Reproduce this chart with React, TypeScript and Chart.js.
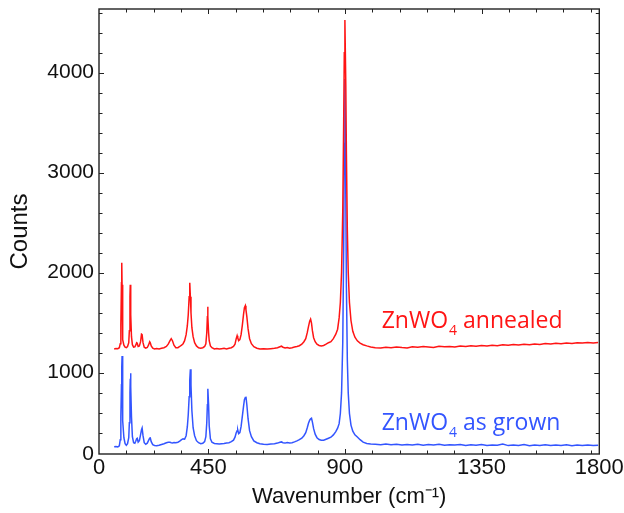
import { useEffect, useRef } from "react";
import { Chart, registerables } from "chart.js";

Chart.register(...registerables);

// Wavenumber grid (axis units) shared by both spectra
const wavenumber = [
  140, 146, 152, 157, 160, 162, 164, 165, 166, 167, 169, 172, 176, 180, 184, 188, 190, 192, 193, 194,
  195, 197, 200, 204, 208, 211, 214, 216, 219, 223, 227, 230, 232, 235, 239, 244, 249, 253, 257, 259,
  262, 267, 273, 280, 288, 296, 304, 312, 318, 324, 328, 332, 337, 343, 350, 356, 362, 367, 372, 377,
  381, 384, 387, 389, 391, 393, 396, 400, 405, 411, 418, 425, 432, 438, 442, 445, 447, 448, 449, 451,
  453, 457, 462, 470, 478, 486, 494, 502, 510, 518, 526, 533, 538, 542, 545, 547, 550, 554, 558, 562,
  566, 569, 572, 574, 577, 581, 586, 592, 600, 610, 620, 632, 644, 656, 668, 678, 686, 691, 696, 703,
  710, 718, 726, 734, 742, 750, 758, 765, 771, 776, 780, 784, 787, 790, 793, 797, 802, 808, 815, 822,
  830, 838, 846, 854, 862, 870, 876, 881, 885, 889, 893, 896, 898, 900, 903, 905, 908, 911, 915, 920,
  926, 933, 941, 950, 960, 972, 985, 1000, 1018, 1035, 1052, 1070, 1088, 1105, 1122, 1140, 1158, 1175,
  1192, 1210, 1228, 1245, 1262, 1280, 1298, 1315, 1332, 1350, 1368, 1385, 1402, 1420, 1438, 1455, 1472, 1490,
  1508, 1525, 1542, 1560, 1578, 1595, 1612, 1630, 1648, 1665, 1682, 1700, 1718, 1734,
];

const annealedCounts = [
  1237, 1242, 1240, 1250, 1290, 1480, 1900, 2100, 1880, 1520, 1330, 1275, 1255, 1250, 1262, 1300, 1420, 1760, 1880, 1800,
  1580, 1360, 1280, 1255, 1258, 1275, 1300, 1295, 1262, 1268, 1310, 1385, 1380, 1300, 1255, 1245, 1252, 1275, 1310, 1300,
  1268, 1245, 1238, 1242, 1238, 1245, 1250, 1262, 1285, 1320, 1340, 1320, 1275, 1250, 1250, 1262, 1275, 1290, 1320, 1380,
  1470, 1580, 1760, 1900, 1760, 1600, 1450, 1360, 1300, 1268, 1250, 1245, 1250, 1262, 1290, 1400, 1560, 1660, 1560, 1400,
  1320, 1268, 1250, 1238, 1242, 1236, 1240, 1244, 1238, 1245, 1250, 1262, 1285, 1340, 1370, 1350, 1320, 1330, 1380, 1470,
  1580, 1650, 1670, 1630, 1560, 1440, 1340, 1290, 1260, 1245, 1238, 1240, 1236, 1240, 1244, 1250, 1260, 1265, 1255, 1248,
  1252, 1245, 1250, 1256, 1262, 1270, 1285, 1310, 1340, 1400, 1460, 1515, 1535, 1495, 1420, 1350, 1310, 1285, 1272, 1268,
  1272, 1285, 1300, 1310, 1340, 1385, 1435, 1548, 1702, 2004, 2626, 3511, 4199, 4527, 3872, 3183, 2430, 2004, 1702, 1522,
  1414, 1355, 1319, 1296, 1280, 1268, 1258, 1250, 1246, 1255, 1249, 1258, 1252, 1248, 1260, 1254, 1262, 1257,
  1251, 1265, 1259, 1263, 1256, 1268, 1262, 1270, 1264, 1272, 1268, 1275, 1270, 1280, 1274, 1282, 1277, 1285,
  1280, 1288, 1283, 1292, 1287, 1295, 1290, 1298, 1293, 1300, 1296, 1303, 1298, 1302,
];

const asGrownCounts = [
  260, 262, 258, 268, 330, 560, 880, 1060, 1167, 930, 520, 350, 290, 275, 290, 350, 500, 800, 940, 994,
  860, 560, 360, 300, 295, 315, 340, 344, 305, 320, 380, 430, 447, 370, 300, 285, 295, 320, 345, 347,
  310, 280, 272, 270, 274, 282, 290, 300, 305, 304, 300, 298, 302, 300, 305, 315, 330, 338, 335, 370,
  460, 580, 760, 930, 1034, 880, 620, 450, 370, 320, 300, 290, 295, 310, 360, 500, 680, 780, 840, 680,
  470, 340, 305, 292, 290, 286, 290, 292, 296, 300, 310, 325, 355, 400, 420, 427, 390, 400, 460, 560,
  660, 730, 752, 760, 680, 540, 420, 360, 318, 300, 290, 285, 282, 286, 290, 296, 305, 308, 300, 296,
  302, 298, 300, 308, 318, 330, 345, 370, 400, 450, 495, 525, 538, 544, 505, 440, 385, 350, 332, 325,
  325, 335, 345, 355, 378, 410, 445, 490, 592, 798, 1309, 2257, 3293, 3937, 2753, 1855, 1128, 798, 592, 476,
  415, 379, 357, 330, 305, 293, 288, 285, 280, 287, 279, 284, 276, 283, 278, 285, 275,
  281, 277, 284, 274, 280, 276, 283, 272, 279, 275, 282, 273, 278, 274, 286, 271, 277, 273,
  281, 270, 276, 272, 279, 271, 277, 273, 280, 270, 276, 272, 278, 271, 274,
];

const seriesNames = ["annealed", "as grown"];
const seriesColors = ["#ff1414", "#3355ff"];
const labelAnchorX = [1021, 1021];
const labelAnchorY = [1444, 427];

const xTickValues = [90, 450, 900, 1350, 1738];
const xTickLabels = ["0", "450", "900", "1350", "1800"];
const xMinorStep = 90;
const yTickValues = [187, 1000, 2000, 3000, 4000];
const yTickLabels = ["0", "1000", "2000", "3000", "4000"];
const yMinorStep = 200;
const X_MIN = 90;
const X_MAX = 1738;
const Y_MIN = 187;
const Y_MAX = 4637;

const TICK_FONT = "'Liberation Sans', Arial, sans-serif";
const NOTE_FONT = "'Open Sans', sans-serif";

function buildTicks(min: number, max: number, step: number, labeled: number[]) {
  const vals = new Set<number>(labeled);
  for (let v = Math.ceil(min / step) * step; v < max; v += step) {
    if (v - min > step * 0.3) vals.add(v);
  }
  return Array.from(vals).sort((a, b) => a - b);
}

const framePlugin = {
  id: "framePlugin",
  afterDatasetsDraw(chart: any) {
    const { ctx, chartArea: a, scales } = chart;
    const xs = scales.x;
    const ys = scales.y;
    ctx.save();
    ctx.strokeStyle = "#222";
    ctx.lineWidth = 1;
    ctx.beginPath();
    for (const t of xs.ticks) {
      if (t.value <= X_MIN || t.value >= X_MAX) continue;
      const px = Math.round(xs.getPixelForValue(t.value)) + 0.5;
      const len = xTickValues.includes(t.value) ? 5 : 3.5;
      ctx.moveTo(px, a.bottom);
      ctx.lineTo(px, a.bottom - len);
      ctx.moveTo(px, a.top);
      ctx.lineTo(px, a.top + len);
    }
    for (const t of ys.ticks) {
      if (t.value <= Y_MIN || t.value >= Y_MAX) continue;
      const py = Math.round(ys.getPixelForValue(t.value)) + 0.5;
      const len = yTickValues.includes(t.value) ? 5 : 3.5;
      ctx.moveTo(a.left, py);
      ctx.lineTo(a.left + len, py);
      ctx.moveTo(a.right, py);
      ctx.lineTo(a.right - len, py);
    }
    ctx.stroke();
    ctx.lineWidth = 1.4;
    ctx.strokeRect(a.left, a.top, a.right - a.left, a.bottom - a.top);

    // series annotations
    for (let i = 0; i < seriesNames.length; i++) {
      let x = xs.getPixelForValue(labelAnchorX[i]);
      const y = ys.getPixelForValue(labelAnchorY[i]);
      ctx.fillStyle = seriesColors[i];
      ctx.textBaseline = "alphabetic";
      ctx.textAlign = "left";
      ctx.font = `23px ${NOTE_FONT}`;
      ctx.fillText("ZnWO", x, y);
      x += ctx.measureText("ZnWO").width + 1;
      ctx.font = `14px ${NOTE_FONT}`;
      ctx.fillText("4", x, y + 7);
      x += ctx.measureText("4").width;
      ctx.font = `23px ${NOTE_FONT}`;
      ctx.fillText(" " + seriesNames[i], x, y);
    }
    ctx.restore();
  },
};

export default function App() {
  const canvasRef = useRef<HTMLCanvasElement | null>(null);

  useEffect(() => {
    document.body.style.margin = "0";
    const canvas = canvasRef.current;
    if (!canvas) return;
    const xTicks = buildTicks(X_MIN, X_MAX, xMinorStep, xTickValues);
    const yTicks = buildTicks(Y_MIN, Y_MAX, yMinorStep, yTickValues);

    const chart = new Chart(canvas, {
      type: "line",
      data: {
        datasets: [
          {
            label: seriesNames[0],
            data: wavenumber.map((x, i) => ({ x, y: annealedCounts[i] })),
            borderColor: seriesColors[0],
            borderWidth: 1.5,
            pointRadius: 0,
            tension: 0,
            fill: false,
          },
          {
            label: seriesNames[1],
            data: wavenumber.map((x, i) => ({ x, y: asGrownCounts[i] })),
            borderColor: seriesColors[1],
            borderWidth: 1.5,
            pointRadius: 0,
            tension: 0,
            fill: false,
          },
        ],
      },
      options: {
        animation: false,
        responsive: false,
        devicePixelRatio: 1,
        layout: { padding: { top: 9, right: 24.7, left: 0, bottom: 0 } },
        plugins: { legend: { display: false }, tooltip: { enabled: false } },
        scales: {
          x: {
            type: "linear",
            min: X_MIN,
            max: X_MAX,
            grid: { display: false, drawTicks: false },
            border: { display: false },
            afterBuildTicks: (s: any) => {
              s.ticks = xTicks.map((v) => ({ value: v }));
            },
            afterFit: (s: any) => {
              s.height = 59;
              s.paddingLeft = 0;
              s.paddingRight = 0;
            },
            ticks: {
              autoSkip: false,
              maxRotation: 0,
              padding: 1,
              color: "#111",
              font: { family: TICK_FONT, size: 22 },
              callback: (v: any) => {
                const i = xTickValues.indexOf(Number(v));
                return i >= 0 ? xTickLabels[i] : "";
              },
            },
            title: {
              display: true,
              text: "Wavenumber (cm\u207B\u00B9)",
              color: "#111",
              font: { family: TICK_FONT, size: 22 },
              padding: { top: 0, bottom: 3 },
            },
          },
          y: {
            type: "linear",
            min: Y_MIN,
            max: Y_MAX,
            grid: { display: false, drawTicks: false },
            border: { display: false },
            afterBuildTicks: (s: any) => {
              s.ticks = yTicks.map((v) => ({ value: v }));
            },
            afterFit: (s: any) => {
              s.width = 99;
              s.paddingTop = 0;
              s.paddingBottom = 0;
            },
            ticks: {
              autoSkip: false,
              padding: 5,
              color: "#111",
              font: { family: TICK_FONT, size: 21 },
              callback: (v: any) => {
                const i = yTickValues.indexOf(Number(v));
                return i >= 0 ? yTickLabels[i] : "";
              },
            },
            title: {
              display: true,
              text: "Counts",
              color: "#111",
              font: { family: TICK_FONT, size: 24 },
              padding: { top: 6, bottom: 0 },
            },
          },
        },
      },
      plugins: [framePlugin],
    });
    return () => chart.destroy();
  }, []);

  return (
    <div style={{ width: 624, height: 513 }}>
      <canvas ref={canvasRef} width={624} height={513} />
    </div>
  );
}
